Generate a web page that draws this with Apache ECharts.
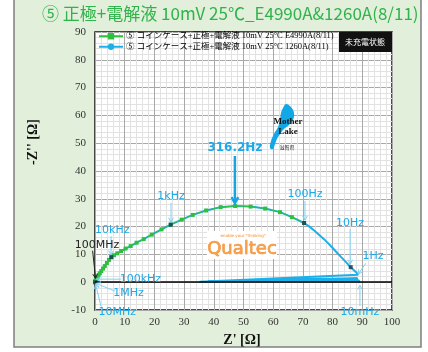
<!DOCTYPE html>
<html>
<head>
<meta charset="utf-8">
<script src="https://cdn.jsdelivr.net/npm/echarts@6/dist/echarts.min.js"></script>
<style>
  html, body { margin: 0; padding: 0; background: #ffffff; }
  #chart { width: 428px; height: 352px; }
</style>
</head>
<body>
<div id="chart"></div>
<script>
// Impedance (Nyquist) plot: coin cell, cathode + electrolyte, 10 mV, 25 °C

const seriesNames = [
  '⑤ コインケース+正極+電解液 10mV 25°C E4990A(8/11)',
  '⑤ コインケース+正極+電解液 10mV 25°C 1260A(8/11)'
];

// E4990A sweep (high frequency -> 100 Hz), Z' and -Z'' in ohm
const e4990Re = [0.0, 0.1, 0.2, 0.3, 0.4, 0.6, 0.9, 1.2, 1.6, 2.1, 2.7, 3.3, 4.0, 4.7, 5.5, 6.4, 7.5, 8.8, 10.3, 12.0, 14.0, 16.4, 19.1, 22.4, 25.5, 29.2, 32.9, 37.4, 42.3, 47.2, 52.4, 57.3, 62.3, 66.3, 70.4];
const e4990Im = [0.2, 0.3, 0.5, 0.6, 0.8, 1.3, 1.9, 2.5, 3.2, 4.0, 4.9, 5.8, 6.9, 8.0, 9.0, 9.7, 10.4, 11.2, 12.1, 13.0, 14.2, 15.5, 17.1, 19.0, 20.7, 22.5, 24.2, 25.8, 27.0, 27.4, 27.2, 26.5, 25.2, 23.4, 21.3];

// 1260A sweep (1 MHz -> 10 mHz)
const s1260Re = [0.1, 0.2, 0.4, 0.6, 0.9, 1.2, 1.6, 2.1, 2.7, 3.3, 4.0, 4.7, 5.5, 6.4, 7.5, 8.8, 10.3, 12.0, 14.0, 16.4, 19.1, 22.4, 25.5, 29.2, 32.9, 37.4, 42.3, 47.2, 52.4, 57.3, 62.3, 66.3, 70.4, 72.3, 74.0, 75.6, 77.2, 78.7, 80.1, 81.5, 82.9, 84.5, 86.1, 86.7, 87.2, 87.6, 87.9, 88.2, 88.4, 88.6, 88.7, 88.8, 88.9, 35.2, 88.4, 61.0, 88.6, 38.0, 88.9, 89.1];
const s1260Im = [-0.1, 0.3, 0.8, 1.3, 1.9, 2.5, 3.2, 4.0, 4.9, 5.8, 6.9, 8.0, 9.0, 9.7, 10.4, 11.2, 12.1, 13.0, 14.2, 15.5, 17.1, 19.0, 20.7, 22.5, 24.2, 25.8, 27.0, 27.4, 27.2, 26.5, 25.2, 23.4, 21.3, 19.9, 18.4, 16.9, 15.4, 13.8, 12.2, 10.6, 9.0, 7.2, 5.4, 4.8, 4.3, 3.9, 3.6, 3.3, 3.0, 2.7, 2.4, 2.2, 2.0, 0.2, 1.4, 1.0, 1.1, 0.4, 0.6, -0.3];

// Decade points highlighted on the curves
const decadeRe = [0.0, 5.5, 25.5, 70.4, 86.1];
const decadeIm = [0.0, 9.0, 20.7, 21.3, 5.4];

// Axis ticks
const xTicks = { min: 0, max: 100, step: 10 };
const yTicks = { min: -10, max: 90, step: 10 };

// Frequency callouts: text, label anchor, arrow start, arrow tip (data units)
const callouts = [
  { text: '316.2Hz', label: [47.1, 48.4], from: [47.1, 45.4], to: [47.1, 28.4], main: true },
  { text: '1kHz',    label: [25.6, 31.0], from: [25.6, 28.6], to: [25.6, 21.6] },
  { text: '100Hz',   label: [70.7, 31.6], from: [70.7, 29.2], to: [70.7, 22.3] },
  { text: '10kHz',   label: [5.8, 18.8],  from: [5.4, 16.6],  to: [5.4, 9.8] },
  { text: '100MHz',  label: [0.7, 13.4],  from: [-0.8, 11.3], to: [0.2, 1.4], dark: true },
  { text: '100kHz',  label: [15.3, 1.1],  from: [8.8, 1.1],   to: [0.5, 1.1] },
  { text: '1MHz',    label: [11.3, -4.0], from: [6.7, -3.2],  to: [0.3, -0.4] },
  { text: '10MHz',   label: [7.5, -10.6], from: [2.0, -8.6],  to: [0.2, -0.7] },
  { text: '10Hz',    label: [85.9, 21.3], from: [85.9, 19.1], to: [85.9, 6.5] },
  { text: '1Hz',     label: [93.6, 9.4],  from: [91.2, 6.8],  to: [88.6, 2.9] },
  { text: '10mHz',   label: [89.2, -10.8], from: [89.2, -8.6], to: [89.2, -1.1] }
];

const pairs = (xs, ys) => xs.map((x, i) => [x, ys[i]]);

const GREEN = '#2fbf3f';
const CYAN = '#1cb0ea';
const SERIF = "'Liberation Serif', 'DejaVu Serif', serif";
const JP = "'Liberation Serif', 'Noto Sans CJK JP', serif";

const chart = echarts.init(document.getElementById('chart'), null, { renderer: 'canvas' });

const axisCommon = {
  axisLine: { show: false },
  axisTick: { show: false },
  axisLabel: { color: '#333', fontFamily: SERIF, fontSize: 11 },
  splitLine: { show: true, lineStyle: { color: '#a8a8a8', width: 1 } },
  minorTick: { show: false, splitNumber: 5 },
  minorSplitLine: { show: true, lineStyle: { color: '#e2e2e2', width: 1 } }
};

chart.setOption({
  backgroundColor: 'transparent',
  animation: false,
  grid: {
    left: 95, top: 32, right: 36, bottom: 42,
    show: true, backgroundColor: '#ffffff', borderColor: '#111', borderWidth: 1.5
  },
  xAxis: Object.assign({
    type: 'value', min: xTicks.min, max: xTicks.max, interval: xTicks.step
  }, axisCommon, { axisLabel: Object.assign({}, axisCommon.axisLabel, { margin: 7 }) }),
  yAxis: Object.assign({
    type: 'value', min: yTicks.min, max: yTicks.max, interval: yTicks.step
  }, axisCommon, { axisLabel: Object.assign({}, axisCommon.axisLabel, { margin: 9 }) }),
  legend: {
    data: seriesNames,
    orient: 'vertical',
    left: 98, top: 32,
    itemGap: 2,
    itemWidth: 24, itemHeight: 8,
    padding: 0,
    textStyle: { fontFamily: JP, fontSize: 8.5, color: '#000', padding: [0, 0, 0, -2] }
  },
  series: [
    {
      name: seriesNames[1],
      type: 'line',
      data: pairs(s1260Re, s1260Im),
      showSymbol: false,
      symbol: 'none',
      lineStyle: { color: CYAN, width: 2 },
      itemStyle: { color: CYAN },
      z: 2,
      markLine: {
        silent: true, symbol: 'none', label: { show: false },
        lineStyle: { color: '#000', width: 1.5, type: 'solid' },
        data: [{ yAxis: 0 }]
      }
    },
    {
      name: seriesNames[0],
      type: 'line',
      data: pairs(e4990Re, e4990Im),
      symbol: 'rect',
      symbolSize: 4,
      lineStyle: { color: GREEN, width: 1 },
      itemStyle: { color: GREEN },
      z: 3
    },
    {
      name: 'decades',
      type: 'scatter',
      data: pairs(decadeRe, decadeIm),
      symbol: 'rect',
      symbolSize: 4,
      itemStyle: { color: '#17365d' },
      z: 4
    }
  ]
});

// ---- overlay graphics (frame, title, axis names, callouts, badges) ----
const px = p => chart.convertToPixel({ gridIndex: 0 }, p);

function arrow(from, to, color, width, head) {
  const a = px(from), b = px(to);
  const ang = Math.atan2(b[1] - a[1], b[0] - a[0]);
  const h = head, spread = 0.5;
  const l = [b[0] - h * Math.cos(ang - spread), b[1] - h * Math.sin(ang - spread)];
  const r = [b[0] - h * Math.cos(ang + spread), b[1] - h * Math.sin(ang + spread)];
  return [
    { type: 'line', z: 50, shape: { x1: a[0], y1: a[1], x2: b[0], y2: b[1] }, style: { stroke: color, lineWidth: width } },
    { type: 'polyline', z: 50, shape: { points: [l, b, r] }, style: { stroke: color, lineWidth: width, fill: null } }
  ];
}

const g = [];
// outer panel
g.push({ type: 'rect', z: -10, shape: { x: 14, y: -2, width: 407, height: 349 },
         style: { fill: '#e2efda', stroke: '#7f7f7f', lineWidth: 1.5 } });
// title
g.push({ type: 'text', z: 10, x: 42, y: 14,
         style: { text: '⑤ 正極+電解液 10mV 25℃_E4990A&1260A(8/11)', fill: '#2fb34a',
                  font: "17px 'Noto Sans CJK JP', 'Noto Sans', sans-serif", verticalAlign: 'middle' } });
// axis names
g.push({ type: 'text', z: 10, x: 33, y: 142, rotation: Math.PI / 2,
         style: { text: "-Z'' [Ω]", fill: '#111', font: "bold 14px " + SERIF, align: 'center', verticalAlign: 'middle' } });
g.push({ type: 'text', z: 10, x: 242, y: 340,
         style: { text: "Z' [Ω]", fill: '#111', font: "bold 14px " + SERIF, align: 'center', verticalAlign: 'middle' } });
// state badge
g.push({ type: 'rect', z: 20, shape: { x: 339, y: 32, width: 53, height: 20 }, style: { fill: '#111' } });
g.push({ type: 'text', z: 21, x: 365, y: 42,
         style: { text: '未充電状態', fill: '#fff', font: "8px 'Noto Sans CJK JP'", align: 'center', verticalAlign: 'middle' } });

// lake emblem
g.push({ type: 'polygon', z: 20,
         shape: { smooth: 0.4, points: [[286,104],[291,107],[294,113],[293,120],[289,125],[284,129],[280,134],[277,139],[275,144],[273,149],[270,148],[271,141],[274,134],[278,127],[280,120],[281,113],[283,108]] },
         style: { fill: '#12a7e6' } });
g.push({ type: 'text', z: 21, x: 288, y: 122,
         style: { text: 'Mother', fill: '#111', font: "bold 9px " + SERIF, align: 'center', verticalAlign: 'middle' } });
g.push({ type: 'text', z: 21, x: 288, y: 132,
         style: { text: 'Lake', fill: '#111', font: "bold 9px " + SERIF, align: 'center', verticalAlign: 'middle' } });
g.push({ type: 'text', z: 21, x: 287, y: 147,
         style: { text: '滋賀県', fill: '#333', font: "5px 'Noto Sans CJK JP'", align: 'center', verticalAlign: 'middle' } });

// company mark
g.push({ type: 'rect', z: 20, shape: { x: 207, y: 231, width: 70, height: 28 }, style: { fill: '#ffffff' } });
g.push({ type: 'text', z: 21, x: 243, y: 236,
         style: { text: 'enable your "thinking"', fill: '#f08a24', font: "4px 'DejaVu Sans'", align: 'center', verticalAlign: 'middle' } });
g.push({ type: 'text', z: 21, x: 242, y: 249,
         style: { text: 'Qualtec', fill: '#f7a04a', stroke: '#ee7f1c', lineWidth: 0.6, font: "18px 'DejaVu Sans'", align: 'center', verticalAlign: 'middle' } });

// callouts
callouts.forEach(c => {
  const color = c.dark ? '#222' : (c.main ? '#1aa3e0' : '#7fd0f2');
  const tcolor = c.dark ? '#222' : '#1ea8e6';
  arrow(c.from, c.to, color, c.main ? 2.5 : 1, c.main ? 7 : 5).forEach(e => g.push(e));
  const p = px(c.label);
  g.push({ type: 'text', z: 60, x: p[0], y: p[1],
           style: { text: c.text, fill: tcolor,
                    font: (c.main ? 'bold 12px ' : '11px ') + "'DejaVu Sans', sans-serif",
                    align: 'center', verticalAlign: 'middle' } });
});

chart.setOption({ graphic: { elements: g } });
</script>
</body>
</html>
